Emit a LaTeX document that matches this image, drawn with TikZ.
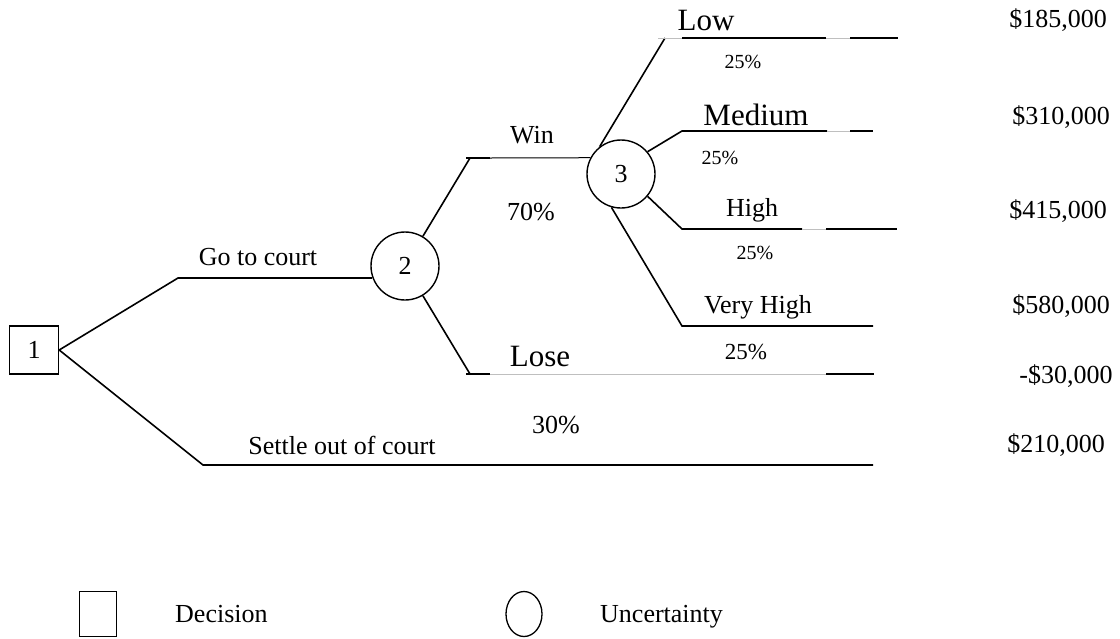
\documentclass[tikz,border=0pt]{standalone}
\usepackage{fontspec}
\setmainfont{Liberation Serif}
\usetikzlibrary{positioning,shapes.geometric}

\begin{document}
\begin{tikzpicture}[x=1pt,y=-1pt,
  branch/.style={line width=1.6pt},
  thin branch/.style={line width=1pt},
  faint/.style={line width=1pt,black!25},
  decision node/.style={draw,line width=1.4pt,minimum width=49pt,minimum height=48pt,inner sep=0pt,font=\fontsize{26}{30}\selectfont},
  chance node/.style={circle,draw,line width=1.4pt,minimum size=68pt,inner sep=0pt,font=\fontsize{26}{30}\selectfont},
  lab/.style={inner sep=0pt,font=\fontsize{26}{30}\selectfont},
  big lab/.style={inner sep=0pt,font=\fontsize{31}{36}\selectfont},
  small lab/.style={inner sep=0pt,font=\fontsize{20}{24}\selectfont}]
  \useasboundingbox (0,0) rectangle (1120,638);
%1
  \node[decision node] (1) at (34,350) {1};
%2
  \node[chance node] (2) at (405,266) {2};
%3
  \node[chance node] (3) at (621,174) {3};
%bends and ends
  \coordinate (court) at (178,278);
  \coordinate (courtend) at (372,278);
  \coordinate (settle) at (203,465);
  \coordinate (settleend) at (873,465);
  \coordinate (win) at (470,158);
  \coordinate (wintick) at (466,158);
  \coordinate (winmid) at (490,158);
  \coordinate (lose) at (470,374);
  \coordinate (losetick) at (466,374);
  \coordinate (losemid) at (490,374);
  \coordinate (losegap) at (826,374);
  \coordinate (loseend) at (874,374);
  \coordinate (low) at (665,38);
  \coordinate (lowtick) at (658,38);
  \coordinate (lowa) at (682,38);
  \coordinate (lowb) at (826,38);
  \coordinate (lowc) at (850,38);
  \coordinate (lowend) at (898,38);
  \coordinate (med) at (682,131);
  \coordinate (medb) at (827,131);
  \coordinate (medc) at (850,131);
  \coordinate (medend) at (873,131);
  \coordinate (high) at (682,229);
  \coordinate (highb) at (802,229);
  \coordinate (highc) at (826,229);
  \coordinate (highend) at (897,229);
  \coordinate (vhigh) at (682,326);
  \coordinate (vhighend) at (873,326);
%paths
  \draw[branch] (1.east) -- (court) -- (courtend);
  \draw[branch] (1.east) -- (settle) -- (settleend);
  \draw[branch] (2) -- (win);
  \draw[branch] (wintick) -- (winmid);
  \draw[thin branch] (winmid) -- (3.152);
  \draw[branch] (2) -- (lose);
  \draw[branch] (losetick) -- (losemid);
  \draw[faint] (losemid) -- (losegap);
  \draw[branch] (losegap) -- (loseend);
  \draw[branch] (3.128) -- (low);
  \draw[faint] (lowtick) -- (lowa);
  \draw[branch] (lowa) -- (lowb);
  \draw[faint] (lowb) -- (lowc);
  \draw[branch] (lowc) -- (lowend);
  \draw[branch] (3.40) -- (med) -- (medb);
  \draw[faint] (medb) -- (medc);
  \draw[branch] (medc) -- (medend);
  \draw[branch] (3.-40) -- (high) -- (highb);
  \draw[faint] (highb) -- (highc);
  \draw[branch] (highc) -- (highend);
  \draw[branch] (3.-106) -- (vhigh) -- (vhighend);
%labels
  \node[lab] (courtlab) at (258,257) {Go to court};
  \node[lab] (settlelab) at (342,445) {Settle out of court};
  \node[lab] (winlab) at (532,135) {Win};
  \node[lab] (winp) at (531,212) {70\%};
  \node[big lab] (loselab) at (540,356) {Lose};
  \node[lab] (losep) at (556,425) {30\%};
  \node[big lab] (lowlab) at (706,20) {Low};
  \node[small lab] (lowp) at (743,62) {25\%};
  \node[big lab] (medlab) at (756,115) {Medium};
  \node[small lab] (medp) at (720,158) {25\%};
  \node[lab] (highlab) at (752,210) {High};
  \node[small lab] (highp) at (755,253) {25\%};
  \node[lab] (vhighlab) at (758,307) {Very High};
  \node[lab,font=\fontsize{23}{27}\selectfont] (vhighp) at (746,352) {25\%};
%payoffs
  \node[lab] (v1) at (1058,20) {\$185,000};
  \node[lab] (v2) at (1061,117) {\$310,000};
  \node[lab] (v3) at (1058,211) {\$415,000};
  \node[lab] (v4) at (1061,306) {\$580,000};
  \node[lab] (v5) at (1066,376) {-\$30,000};
  \node[lab] (v6) at (1056,445) {\$210,000};
%legend
  \node[draw,line width=1.3pt,minimum width=37pt,minimum height=45pt,inner sep=0pt] (keysq) at (98,614) {};
  \node[lab,anchor=base west] (keysqlab) at (175,622) {Decision};
  \node[ellipse,draw,line width=1.3pt,minimum width=36pt,minimum height=45pt,inner sep=0pt] (keyci) at (524,614) {};
  \node[lab,anchor=base west] (keycilab) at (600,622) {Uncertainty};
\end{tikzpicture}
\end{document}
